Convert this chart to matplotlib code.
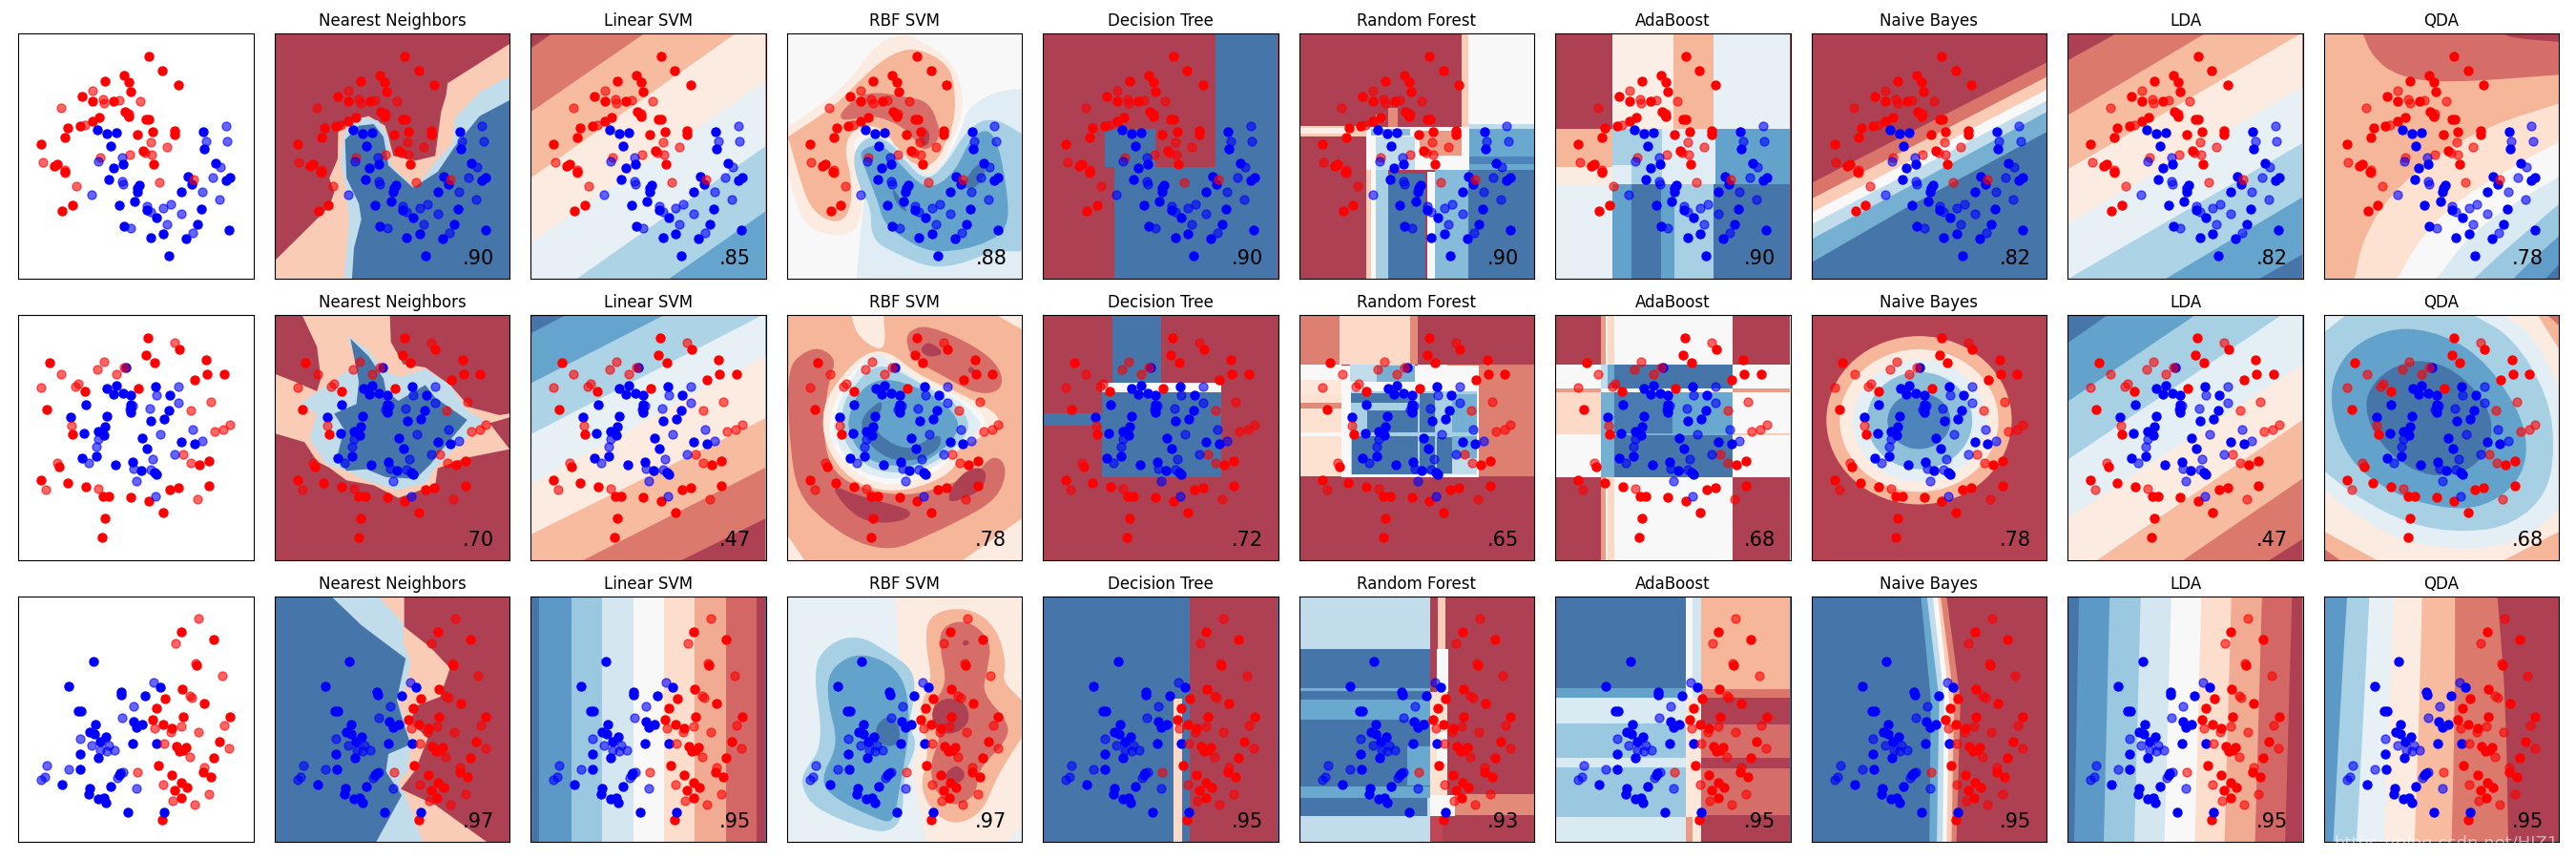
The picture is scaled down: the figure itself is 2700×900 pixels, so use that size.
# plot.py - classifier comparison grid.
import numpy as np, matplotlib
matplotlib.use("Agg")
import matplotlib.pyplot as plt
from matplotlib.patches import Ellipse, PathPatch
from matplotlib.path import Path

names = ["Nearest Neighbors", "Linear SVM", "RBF SVM", "Decision Tree", "Random Forest",
         "AdaBoost", "Naive Bayes", "LDA", "QDA"]
scores = [[".90", ".85", ".88", ".90", ".90", ".90", ".82", ".82", ".78"],
          [".70", ".47", ".78", ".72", ".65", ".68", ".78", ".47", ".68"],
          [".97", ".95", ".97", ".95", ".93", ".95", ".95", ".95", ".95"]]

# points, read in crop pixels of the first column (axes box 28..767, 30..802)
moons_red_train = [(437,101),(480,146),(530,191),(360,161),(374,183),(381,211),(299,180),(228,226),(260,241),(328,242),(363,274),(374,290),(372,284),(283,292),(261,304),(222,321),(184,327),(175,358),(100,377),(150,440),(141,447),(174,464),(197,571),(166,589),(430,298),(439,298),(402,348),(449,340),(520,336),(519,347),(419,398),(454,442)]
moons_red_test = [(261,210),(293,237),(298,248),(345,238),(412,243),(162,262),(376,282),(236,316),(445,372),(496,388),(377,410),(426,404),(447,412),(285,419),(104,435),(175,460),(175,468),(211,510),(472,497),(579,490)]
moons_blue_train = [(276,331),(305,344),(335,343),(318,384),(356,440),(327,453),(313,488),(610,338),(612,393),(647,438),(560,481),(573,505),(680,491),(692,484),(541,529),(408,507),(403,517),(401,527),(394,557),(344,570),(431,586),(463,608),(604,581),(591,631),(360,636),(443,672),(484,660),(556,674),(501,728),(691,647)]
moons_blue_test = [(680,320),(617,368),(685,368),(353,419),(280,433),(664,450),(638,482),(355,495),(358,504),(607,527),(259,536),(660,553),(431,573),(443,590),(484,580),(508,568),(541,597),(496,629),(382,642),(576,658)]

circles_red_train = [(436,100),(533,136),(430,154),(455,180),(125,180),(618,169),(621,216),(674,214),(583,234),(238,268),(405,261),(117,326),(199,404),(155,506),(100,549),(183,557),(239,570),(294,600),(313,599),(382,603),(437,616),(503,580),(530,574),(627,568),(482,652),(300,668),(292,728),(597,501),(628,489)]
circles_red_test = [(520,117),(296,175),(276,201),(360,193),(335,215),(163,216),(100,257),(207,255),(215,244),(634,303),(569,330),(194,378),(692,374),(672,390),(645,396),(546,468),(571,496),(150,496),(115,580),(278,575),(590,608)]
circles_blue_train = [(367,193),(336,251),(307,261),(326,277),(356,275),(382,282),(460,255),(504,282),(240,311),(382,310),(382,322),(382,336),(500,330),(193,350),(306,349),(444,362),(486,356),(300,382),(278,396),(235,402),(296,409),(418,416),(432,449),(540,429),(581,434),(273,475),(227,481),(332,500),(386,493),(413,519),(456,525),(462,532)]
circles_blue_test = [(532,255),(463,280),(532,305),(388,314),(377,325),(440,322),(575,391),(475,405),(607,425),(278,421),(272,445),(519,468),(450,484),(248,494),(391,512),(443,517),(400,552),(458,601)]

linear_red_train = [(541,141),(643,163),(589,245),(544,321),(488,350),(612,365),(462,382),(449,417),(545,408),(692,407),(482,432),(511,445),(661,487),(524,500),(556,503),(534,517),(546,512),(643,537),(467,561),(610,583),(634,597),(511,591),(541,615),(559,630),(520,639),(539,663),(481,732)]
linear_red_test = [(594,97),(521,177),(586,238),(668,279),(566,341),(574,347),(456,445),(539,437),(507,455),(593,457),(675,435),(485,491),(691,508),(566,534),(611,566),(402,581),(484,620),(627,650),(513,672),(581,683)]
linear_blue_train = [(263,233),(187,311),(350,329),(352,337),(473,315),(426,343),(217,390),(226,390),(390,423),(399,440),(417,432),(270,433),(253,455),(268,462),(302,470),(284,486),(386,492),(461,491),(222,525),(280,536),(223,573),(349,585),(344,590),(165,620),(317,626),(251,633),(249,651),(279,666),(296,662),(304,677),(373,709),(486,707)]
linear_blue_test = [(454,300),(391,375),(355,411),(221,478),(259,498),(312,498),(286,513),(306,517),(329,512),(118,560),(187,573),(356,581),(339,600),(399,632),(110,596),(100,605)]

# decision regions, read in crop pixels of each panel: (base colour, [(colour, outline), ...])
# colour = percent along RdBu; outline has 4 numbers for a box, 5 for an ellipse, else a polygon
moons_knn = (35, [(5,[14,106,491,106,491,138,365,262,362,300,352,350,340,490,300,505,255,490,245,430,238,395,205,365,170,378,143,415,142,500,125,560,135,605,125,650,14,820]),
    (65,[155,877,165,700,160,600,148,510,155,420,190,368,225,380,245,430,250,520,300,590,340,510,375,450,380,370,430,290,491,240,491,877]),
    (95,[171,877,175,780,190,690,185,640,160,560,157,440,185,395,215,390,235,430,245,520,295,590,345,540,380,460,430,365,491,315,491,877])])
moons_svm = (6, [(19,[535,152,578,106,1011,106,1011,877,535,877]),(31,[535,352,765,106,1011,106,1011,877,535,877]),
    (44,[535,560,950,106,1011,106,1011,877,535,877]),(56,[535,762,1011,255,1011,877,535,877]),
    (69,[628,877,1011,460,1011,877]),(81,[815,877,1011,665,1011,877])])
moons_rbf = (50, [(44,[1054,400,1170,280,1240,125,1300,110,1375,170,1410,260,1410,370,1385,450,1370,520,1330,560,1290,500,1270,440,1225,405,1185,440,1200,540,1210,640,1195,730,1150,745,1085,710,1054,530]),
    (30,[1056,430,1155,330,1215,230,1270,165,1320,150,1380,200,1395,270,1395,380,1375,450,1360,505,1325,530,1280,480,1260,420,1225,390,1185,410,1170,470,1185,560,1185,640,1170,695,1135,695,1100,650,1080,560]),
    (17,[1160,370,1170,340,1215,285,1300,305,1340,320,1360,380,1365,440,1330,480,1310,430,1280,390,1225,360,1175,380]),
    (7,[1320,410,1330,395,1345,420,1340,460,1325,455]),
    (58,[1530,280,1480,285,1420,340,1410,400,1380,500,1340,560,1300,500,1265,440,1220,420,1195,460,1215,570,1205,700,1195,877,1530,877]),
    (70,[1185,480,1220,425,1265,445,1300,520,1340,570,1380,510,1420,405,1470,365,1530,420,1530,790,1470,790,1400,835,1340,840,1280,800,1225,755,1225,650,1200,590]),
    (82,[1200,470,1250,450,1290,530,1340,600,1395,545,1430,420,1475,405,1500,580,1505,720,1450,770,1390,790,1340,790,1290,750,1250,700,1240,640,1225,580,1210,520]),
    (94,[1415,565,1445,505,1460,540,1440,590,1415,595]),(94,[1270,590,1290,640,1300,670,1280,650,1268,610])])
moons_tree = (5, [(95,[375,106,502,877]),(95,[171,525,502,877]),(95,[152,405,253,525])])
moons_forest = (5, [(50,[888,106,1021,390]),(35,[875,106,888,400]),(35,[545,397,680,428]),(45,[545,403,640,420]),
    (65,[888,390,1021,405]),(80,[888,405,1021,535]),(90,[890,492,1021,515]),(50,[680,400,890,535]),
    (25,[790,410,875,490]),(75,[690,405,770,425]),(65,[700,430,780,535]),(22,[725,340,745,400]),(22,[700,360,720,385]),
    (35,[680,535,690,877]),(50,[690,535,700,877]),(70,[700,535,725,877]),(95,[725,545,800,877]),
    (50,[805,540,820,877]),(75,[820,535,888,877]),(95,[888,535,1021,877])])
moons_ada = (5, [(45,[1182,106,1306,405]),(30,[1306,106,1386,405]),(56,[1386,106,1542,405]),(30,[1066,405,1182,525]),
    (44,[1066,525,1182,580]),(56,[1066,580,1182,877]),(70,[1182,405,1282,520]),(58,[1282,405,1390,580]),
    (82,[1390,405,1542,580]),(70,[1220,520,1282,580]),(58,[1182,520,1220,580]),(82,[1182,580,1220,877]),
    (95,[1220,580,1280,877]),(82,[1280,580,1308,877]),(70,[1308,580,1386,877]),(95,[1386,580,1542,877])])
moons_nb = (6, [(18,[16,575,495,195,495,877,16,877]),(35,[16,625,495,240,495,877,16,877]),(50,[16,668,495,280,495,877,16,877]),
    (65,[16,705,495,315,495,877,16,877]),(78,[16,752,495,350,495,877,16,877]),(94,[16,825,200,660,495,413,495,877,16,877])])
moons_lda = (6, [(19,[537,190,635,106,1013,106,1013,877,537,877]),(31,[537,362,815,106,1013,106,1013,877,537,877]),
    (44,[537,532,1010,106,1013,106,1013,877,537,877]),(56,[537,702,1013,275,1013,877,537,877]),
    (69,[537,877,1013,450,1013,877]),(81,[735,877,1013,620,1013,877]),(94,[925,877,1013,800,1013,877])])
moons_qda = (30, [(17,[1135,106,1155,180,1205,240,1300,262,1534,235,1534,106]),(6,[1420,106,1440,120,1534,132,1534,106]),
    (40,[1118,877,1135,750,1190,610,1290,480,1400,390,1534,325,1534,877]),(50,[1205,877,1250,750,1320,640,1420,540,1534,445,1534,877]),
    (60,[1285,877,1350,740,1440,640,1534,555,1534,877]),(72,[1360,877,1420,790,1534,640,1534,877]),
    (83,[1440,877,1470,830,1534,740,1534,877]),(94,[1505,877,1534,830,1534,877])])

circles_knn = (5, [(35,[70,91,248,91,250,175,275,245,320,255,370,310,410,380,470,405,491,400,491,412,450,430,491,512,400,540,345,572,340,625,265,665,215,625,160,610,125,570,100,550,75,490,14,462,14,275,55,300,100,330,108,290,100,190]),
    (65,[160,155,200,195,240,270,270,285,320,260,370,310,405,390,440,425,380,510,340,570,320,620,260,640,200,610,160,580,120,560,85,480,100,400,65,370,130,300,185,240]),
    (95,[168,165,205,220,235,290,240,330,265,360,320,310,340,350,405,420,350,520,330,560,300,605,240,600,200,575,160,580,140,540,155,450,135,400,180,370,185,300])])
circles_svm = (94, [(81,[535,148,605,91,1011,91,1011,862,535,862]),(69,[535,305,805,91,1011,91,1011,862,535,862]),
    (56,[535,465,1005,91,1011,91,1011,862,535,862]),(44,[535,622,1011,215,1011,862,535,862]),
    (31,[535,780,1011,415,1011,862,535,862]),(19,[640,862,1011,570,1011,862]),(6,[840,862,1011,730,1011,862])])
circles_rbf = (44, [(30,[1054,91,1185,91,1195,150,1230,195,1255,195,1250,91,1480,91,1530,135,1530,730,1410,862,1090,862,1054,780]),
    (17,[1300,140,1340,120,1440,190,1490,260,1490,330,1440,340,1380,290,1310,230,1296,180]),
    (17,[1085,210,1120,190,1155,230,1140,290,1130,400,1130,500,1150,590,1210,640,1300,660,1370,630,1440,590,1470,530,1498,555,1495,620,1470,680,1400,740,1330,790,1270,830,1200,810,1130,740,1075,650,1060,500,1056,340,1060,250]),
    (6,[1330,185,1345,175,1375,210,1345,225,1325,205]),(6,[1420,260,1430,250,1440,275,1425,275]),
    (6,[1140,620,1200,660,1280,690,1310,710,1290,740,1220,745,1175,700]),(6,[1378,680,1390,620,1430,565,1462,580,1450,640,1410,670]),
    (44,[1125,380,1160,290,1210,210,1260,200,1320,280,1420,345,1500,420,1445,480,1395,510,1400,570,1340,625,1260,650,1180,610,1130,500]),
    (50,[1140,400,1170,300,1220,210,1260,220,1310,290,1420,360,1470,430,1395,505,1380,560,1330,605,1260,630,1190,590,1140,490]),
    (58,[1150,400,1180,300,1225,205,1260,225,1310,290,1400,350,1445,420,1450,450,1390,520,1370,555,1320,590,1270,610,1200,585,1150,490]),
    (70,[1165,380,1190,310,1230,250,1270,255,1340,320,1400,370,1430,440,1395,510,1330,575,1270,590,1210,565,1165,480]),
    (82,[1180,400,1200,330,1240,290,1290,300,1350,340,1395,400,1405,450,1375,510,1320,565,1260,565,1210,540,1178,460]),
    (94,[1200,420,1240,360,1250,370,1235,430,1240,470,1300,520,1350,470,1370,470,1360,520,1310,550,1260,545,1215,490])])
circles_tree = (5, [(95,[166,91,266,302]),(95,[145,332,388,600]),(95,[26,400,145,437]),(50,[145,302,388,332])])
circles_forest = (5, [(20,[545,91,627,247]),(38,[627,91,770,247]),(22,[770,91,785,247]),(50,[545,247,630,295]),(42,[545,295,630,340]),
    (40,[545,340,630,460]),(22,[545,365,630,385]),(40,[545,470,630,597]),(50,[545,460,630,470]),(20,[905,247,1021,597]),(42,[785,247,845,300]),
    (22,[845,247,905,265]),(50,[630,250,910,600]),(65,[648,245,780,300]),(78,[703,250,780,300]),(70,[650,330,905,590]),
    (95,[650,335,780,365]),(95,[682,390,785,460]),(95,[652,470,785,590]),(95,[790,335,820,460]),(95,[825,475,855,587]),
    (95,[790,470,820,587]),(78,[855,340,905,460]),(78,[855,470,905,540]),(65,[855,540,905,590])])
circles_ada = (50, [(5,[1066,91,1158,247]),(5,[1425,91,1542,247]),(5,[1066,600,1158,862]),(5,[1425,600,1542,862]),
    (25,[1158,91,1168,862]),(38,[1172,91,1186,862]),(38,[1066,332,1158,465]),(25,[1066,322,1158,332]),(25,[1425,322,1542,332]),
    (35,[1425,462,1542,468]),(65,[1158,247,1172,600]),(80,[1172,247,1186,600]),(95,[1186,247,1425,322]),(78,[1158,332,1425,600]),
    (92,[1186,332,1303,462]),(95,[1186,468,1425,600]),(80,[1303,332,1425,462]),(50,[1158,322,1425,332])])
circles_nb = (8, [(30,[234,421,376,529,0]),(44,[234,422,322,448,0]),(57,[235,423,270,383,0]),(74,[235,422,214,305,0]),(90,[234,423,128,177,0])])
circles_lda = (94, [(82,[537,178,617,91,1013,91,1013,862,537,862]),(70,[537,362,795,91,1013,91,1013,862,537,862]),
    (57,[537,545,970,91,1013,91,1013,862,537,862]),(44,[537,728,1013,245,1013,862,537,862]),
    (31,[595,862,1013,420,1013,862]),(19,[770,862,1013,605,1013,862]),(6,[945,862,1013,795,1013,862])])
circles_qda = (17, [(30,[1056,91,1510,91,1534,125,1534,862,1090,862,1056,825]),(44,[1056,91,1490,91,1534,200,1534,770,1420,862,1165,862,1056,770]),
    (57,[1420,91,1480,150,1534,320,1534,700,1470,790,1350,835,1210,800,1120,720,1056,640,1056,91]),
    (70,[1056,145,1100,91,1360,91,1440,160,1510,340,1525,500,1510,650,1440,750,1340,775,1230,750,1120,660,1056,580]),
    (82,[1063,350,1095,210,1180,133,1270,135,1370,210,1450,380,1472,510,1450,620,1380,695,1300,700,1190,650,1100,540]),
    (94,[1135,380,1160,290,1220,235,1280,235,1340,285,1390,380,1400,470,1370,560,1310,600,1240,585,1170,500])])

linear_knn = (95, [(65,[130,76,190,165,280,270,262,400,275,470,290,540,245,570,240,625,272,700,220,847,491,847,491,76]),
    (35,[225,76,275,160,275,220,290,280,282,350,265,410,280,460,290,540,285,620,265,660,280,700,315,847,491,847,491,76]),
    (5,[277,76,277,170,330,235,370,300,350,390,300,420,290,470,325,520,300,620,270,680,340,730,445,847,491,847,491,76])])
linear_svm = (95, [(84,[552,76,1011,847]),(72,[617,76,1011,847]),(61,[680,76,1011,847]),(50,[743,76,1011,847]),
    (39,[805,76,1011,847]),(28,[868,76,1011,847]),(16,[932,76,1011,847]),(5,[993,76,1011,847])])
linear_rbf = (56, [(44,[1275,76,1530,76,1530,800,1500,847,1335,847,1330,780,1305,620,1330,520,1310,400,1280,280]),
    (30,[1340,130,1420,105,1480,170,1500,290,1490,340,1530,400,1530,520,1480,640,1450,760,1380,800,1320,690,1345,560,1320,430,1350,340,1335,230]),
    (17,[1365,170,1420,145,1470,215,1460,310,1450,380,1505,470,1500,530,1440,620,1440,700,1390,740,1350,680,1345,590,1368,520,1345,420,1380,350,1365,250]),
    (6,[1348,420,1380,390,1420,410,1425,480,1380,515,1350,480]),(6,[1375,630,1400,600,1420,640,1395,670,1375,650]),(6,[1410,215,1420,210,1425,225,1412,232]),
    (70,[1140,220,1200,195,1260,250,1315,310,1310,420,1300,480,1320,540,1290,640,1290,770,1260,820,1200,800,1110,740,1085,680,1085,630,1130,540,1105,300]),
    (82,[1140,300,1205,245,1290,310,1305,470,1290,620,1280,700,1270,790,1230,770,1150,710,1120,650,1160,540,1135,400]),
    (94,[1235,480,1260,445,1285,490,1280,545,1245,545,1235,510])])
linear_tree = (95, [(5,[323,76,502,847]),(38,[290,396,308,847])])
linear_forest = (65, [(95,[545,240,810,362]),(78,[545,362,810,373]),(95,[545,373,810,398]),(80,[545,398,810,462]),(95,[545,462,810,672]),
    (80,[765,545,810,668]),(80,[545,672,810,708]),(95,[545,708,805,765]),(5,[810,76,1021,847]),(35,[826,76,842,240]),(50,[825,240,848,375]),
    (40,[810,375,845,700]),(50,[825,500,845,600]),(22,[860,697,1021,763]),(50,[810,700,860,765]),(10,[810,765,835,847])])
linear_ada = (95, [(82,[1066,362,1330,392]),(60,[1066,392,1330,474]),(72,[1066,474,1330,582]),(60,[1066,582,1330,612]),(72,[1066,612,1330,767]),
    (60,[1066,767,1330,847]),(50,[1330,76,1344,392]),(62,[1344,76,1362,392]),(42,[1330,392,1362,847]),(25,[1330,767,1345,847]),
    (30,[1362,76,1542,365]),(18,[1362,365,1542,392]),(5,[1362,392,1542,478]),(17,[1362,478,1542,582]),(5,[1362,582,1542,614]),(17,[1362,614,1542,763]),(5,[1362,763,1542,847])])
linear_nb = (95, [(80,[238,76,258,400,255,847,495,847,495,76]),(65,[250,76,275,400,270,847,495,847,495,76]),(50,[262,76,285,400,282,847,495,847,495,76]),
    (35,[272,76,295,400,290,847,495,847,495,76]),(20,[278,76,305,400,300,847,495,847,495,76]),(6,[290,76,318,400,310,847,495,847,495,76])])
linear_lda = (95, [(84,[560,76,550,847,1013,847,1013,76]),(72,[622,76,610,847,1013,847,1013,76]),(61,[685,76,672,847,1013,847,1013,76]),
    (50,[747,76,733,847,1013,847,1013,76]),(39,[808,76,795,847,1013,847,1013,76]),(28,[869,76,855,847,1013,847,1013,76]),
    (16,[931,76,917,847,1013,847,1013,76]),(5,[992,76,978,847,1013,847,1013,76])])
linear_qda = (84, [(70,[1103,76,1090,400,1075,847,1534,847,1534,76]),(56,[1148,76,1138,400,1122,847,1534,847,1534,76]),(44,[1197,76,1190,400,1178,847,1534,847,1534,76]),
    (31,[1255,76,1250,400,1240,847,1534,847,1534,76]),(19,[1322,76,1322,400,1315,847,1534,847,1534,76]),(6,[1408,76,1425,400,1430,847,1534,847,1534,76])])

row_points = [(moons_red_train, moons_blue_train, moons_red_test, moons_blue_test),
              (circles_red_train, circles_blue_train, circles_red_test, circles_blue_test),
              (linear_red_train, linear_blue_train, linear_red_test, linear_blue_test)]
row_regions = [[moons_knn, moons_svm, moons_rbf, moons_tree, moons_forest, moons_ada, moons_nb, moons_lda, moons_qda],
               [circles_knn, circles_svm, circles_rbf, circles_tree, circles_forest, circles_ada, circles_nb, circles_lda, circles_qda],
               [linear_knn, linear_svm, linear_rbf, linear_tree, linear_forest, linear_ada, linear_nb, linear_lda, linear_qda]]
crop_left = [14, 535, 1054, 26, 545, 1066, 16, 537, 1056]
crop_top = [106, 91, 76]
CROP_W, CROP_H = 477, 771
ax_top = [35.3, 330.3, 625.3]
ROUNDED = [2, 8]  # RBF and QDA panels have soft outlines

def shade(c):
    # same colour as RdBu at alpha .8 on white, opaque so regions can be painted over each other
    return 0.8 * np.array(plt.cm.RdBu(np.clip(c, 7, 93) / 100)[:3]) + 0.2

def rounded(ax, x, y, col):
    # quadratic curves through edge midpoints, vertices on the panel frame stay sharp
    verts, codes = [((x[-1] + x[0]) / 2, (y[-1] + y[0]) / 2)], [Path.MOVETO]
    n = len(x)
    for i in range(n):
        mid = ((x[i] + x[(i + 1) % n]) / 2, (y[i] + y[(i + 1) % n]) / 2)
        on_frame = min(x[i], y[i]) < .012 or max(x[i], y[i]) > .988
        verts += [(x[i], y[i]), mid]
        codes += [Path.LINETO, Path.LINETO] if on_frame else [Path.CURVE3, Path.CURVE3]
    ax.add_patch(PathPatch(Path(verts, codes), fc=col, lw=0))

def paint(ax, base, regions, x0, y0, smooth):
    ax.set_facecolor(shade(base))
    for c, o in regions:
        if len(o) == 5:
            ax.add_patch(Ellipse(((o[0] - x0) / CROP_W, (o[1] - y0) / CROP_H), o[2] / CROP_W, o[3] / CROP_H,
                                 angle=o[4], fc=shade(c), lw=0))
            continue
        if len(o) == 4:
            o = [o[0], o[1], o[2], o[1], o[2], o[3], o[0], o[3]]
        x = (np.array(o[0::2]) - x0) / CROP_W
        y = (np.array(o[1::2]) - y0) / CROP_H
        if smooth:
            rounded(ax, x, y, shade(c))
        else:
            ax.fill(x, y, color=shade(c), lw=0)

def dots(ax, pts):
    red, blue, red_t, blue_t = [np.array(p) for p in pts]
    for p, col, a in [(red, "#FF0000", 1), (blue, "#0000FF", 1), (red_t, "#FF0000", .6), (blue_t, "#0000FF", .6)]:
        ax.scatter((p[:, 0] - 28) / 739, (p[:, 1] - 30) / 772, c=col, s=42, alpha=a, zorder=3)

def frame(left, top):
    ax = fig.add_axes([left / 2700, 1 - (top + 257) / 900, 246.4 / 2700, 257 / 900])
    ax.set_xlim(0, 1); ax.set_ylim(1, 0)
    ax.set_xticks([]); ax.set_yticks([])
    return ax

fig = plt.figure(figsize=(27, 9), dpi=100)
for r in range(3):
    ax = frame(19.3, ax_top[r])
    dots(ax, row_points[r])
    for k in range(9):
        ax = frame(19.3 + 268.5 * (k + 1), ax_top[r])
        base, regions = row_regions[r][k]
        paint(ax, base, regions, crop_left[k], crop_top[r], k in ROUNDED)
        dots(ax, row_points[r])
        ax.set_title(names[k], fontsize=12)
        ax.text(0.935, 0.939, scores[r][k], fontsize=15, ha="right", zorder=4)

fig.text(2693 / 2700, 1 - 889 / 900, "https://blog.csdn.net/HJZ11", color="white", alpha=.55, fontsize=13, ha="right")
fig.savefig("out.png", dpi=100)
